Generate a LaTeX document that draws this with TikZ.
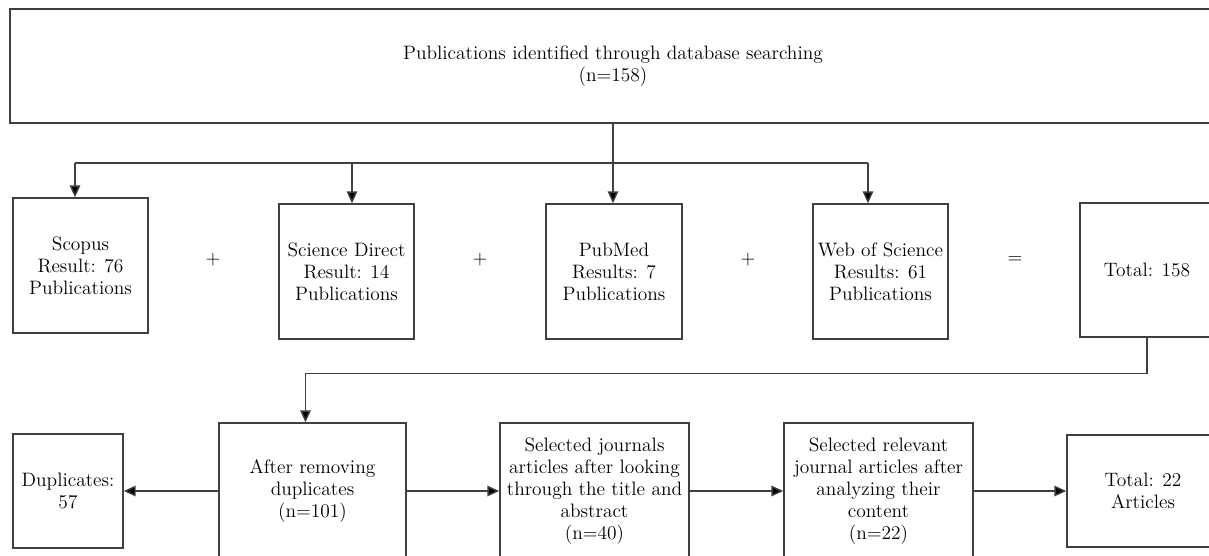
\documentclass[tikz,border=0pt]{standalone}
\usepackage{tikz}
\usetikzlibrary{arrows.meta}
\newcommand{\px}{0.025cm}

\begin{document}
\begin{tikzpicture}[x=0.025cm,y=-0.025cm,
  box/.style 2 args={draw=black!75,line width=1pt,align=center,inner sep=2pt,
    minimum width=#1*\px,minimum height=#2*\px,font=\fontsize{13.8}{15.6}\selectfont},
  sign/.style={font=\fontsize{13.8}{15.6}\selectfont},
  link/.style={draw=black!75,line width=1pt},
  arr/.style={link,-{Triangle[length=8.5pt,width=7.5pt,fill=black]}}]
\useasboundingbox (0,0) rectangle (1209,555);
\clip (0,0) rectangle (1209,555);
\node[box={1206}{114}] (top) at (613,66) {Publications identified through database searching\\(n=158)};
\node[box={135}{135}] (scopus) at (80.5,265.5) {Scopus\\Result: 76\\Publications};
\node[box={135}{135}] (scidir) at (346.5,271.5) {Science Direct\\Result: 14\\Publications};
\node[box={136}{135}] (pubmed) at (614,271.5) {PubMed\\Results: 7\\Publications};
\node[box={135}{135}] (wos) at (880.5,271.5) {Web of Science\\Results: 61\\Publications};
\node[box={134}{134}] (total) at (1147,270) {Total: 158};
\node[sign] (plusA) at (213,260) {+};
\node[sign] (plusB) at (480,260) {+};
\node[sign] (plusC) at (748,260) {+};
\node[sign] (eq) at (1015,260) {=};
\node[box={110}{114}] (dup) at (68,491) {Duplicates:\\57};
\node[box={187}{136}] (aftrem) at (312.5,491) {After removing\\duplicates\\(n=101)};
\node[box={189}{136}] (seljour) at (594.5,491) {Selected journals\\articles after looking\\through the title and\\abstract\\(n=40)};
\node[box={189}{136}] (selrel) at (878.5,491) {Selected relevant\\journal articles after\\analyzing their\\content\\(n=22)};
\node[box={152}{112}] (tot22) at (1143,491) {Total: 22\\Articles};
\coordinate (bA) at (75,163);
\coordinate (bB) at (352,163);
\coordinate (bD) at (868,163);
\draw[link] (top.south) -- (top.south |- bA);
\draw[link] (bA) -- (bD);
\draw[arr] (bA) -- (bA |- scopus.north);
\draw[arr] (bB) -- (bB |- scidir.north);
\draw[arr] (top.south |- bA) -- (top.south |- pubmed.north);
\draw[arr] (bD) -- (bD |- wos.north);
\draw[arr] (total.south) -- ++(0,36) -| ([xshift=-7*\px]aftrem.north);
\draw[arr] (aftrem.west) -- (dup.east);
\draw[arr] (aftrem.east) -- (seljour.west);
\draw[arr] (seljour.east) -- (selrel.west);
\draw[arr] (selrel.east) -- (tot22.west);
\end{tikzpicture}
\end{document}
